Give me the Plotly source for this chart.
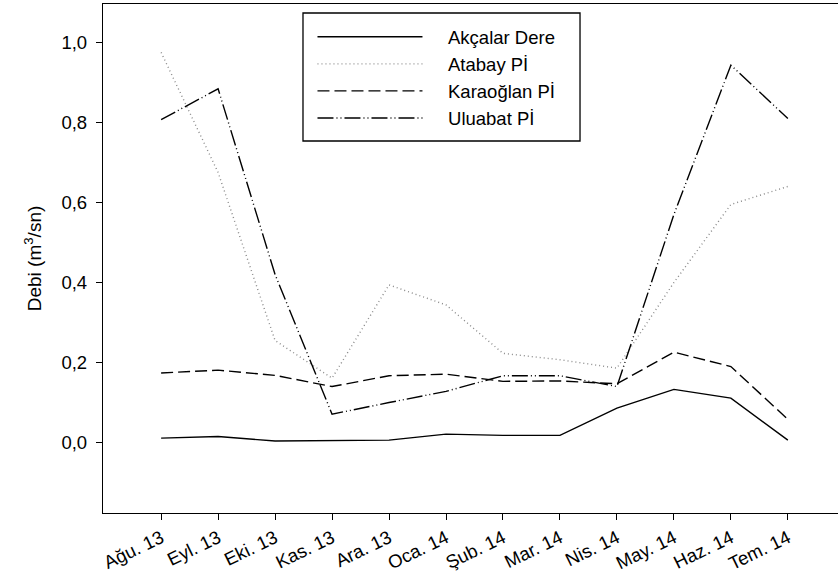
import plotly.graph_objects as go

months = ["Ağu. 13", "Eyl. 13", "Eki. 13", "Kas. 13", "Ara. 13", "Oca. 14",
          "Şub. 14", "Mar. 14", "Nis. 14", "May. 14", "Haz. 14", "Tem. 14"]

akcalar = [0.011, 0.015, 0.004, 0.005, 0.006, 0.021, 0.018, 0.018, 0.086, 0.133, 0.111, 0.006]
atabay = [0.975, 0.675, 0.255, 0.161, 0.394, 0.344, 0.223, 0.207, 0.186, 0.40, 0.595, 0.64]
karaoglan = [0.174, 0.181, 0.168, 0.140, 0.167, 0.171, 0.153, 0.154, 0.147, 0.226, 0.190, 0.058]
uluabat = [0.807, 0.884, 0.42, 0.071, 0.100, 0.128, 0.167, 0.167, 0.140, 0.57, 0.943, 0.81]

series = [
    ("Akçalar Dere", akcalar, "black", "solid"),
    ("Atabay Pİ", atabay, "#8a8a8a", "1px,3px"),
    ("Karaoğlan Pİ", karaoglan, "black", "12px,5px"),
    ("Uluabat Pİ", uluabat, "black", "16px,3px,1px,3px,1px,3px"),
]

x_idx = list(range(len(months)))
pad = "\u00a0" * 4

fig = go.Figure()
for name, vals, color, dash in series:
    fig.add_trace(go.Scatter(x=x_idx, y=vals, mode="lines", name=pad + name,
                             line=dict(color=color, width=1.4, dash=dash)))

font = "Arial"

fig.update_layout(
    width=838, height=579,
    margin=dict(l=103, r=0, t=4, b=66),
    paper_bgcolor="white", plot_bgcolor="white",
    separators=",.",
    font=dict(family=font, size=18.5, color="black"),
    showlegend=True,
    legend=dict(x=0.285, y=0.972, xanchor="left", yanchor="top",
                bgcolor="rgba(0,0,0,0)", borderwidth=0,
                itemwidth=105, tracegroupgap=0,
                font=dict(family=font, size=18.5, color="black")),
    xaxis=dict(range=[-1.02, 11.88], tickmode="array", tickvals=x_idx, ticktext=months,
               tickangle=-26, ticks="outside", ticklen=6, tickcolor="black",
               showline=True, linecolor="black", linewidth=1.3, mirror=True,
               showgrid=False, zeroline=False,
               tickfont=dict(family=font, size=18.5)),
    yaxis=dict(range=[-0.176, 1.096], tickvals=[0, 0.2, 0.4, 0.6, 0.8, 1.0],
               tickformat=".1f", ticks="outside", ticklen=6, tickcolor="black",
               showline=True, linecolor="black", linewidth=1.3,
               showgrid=False, zeroline=False, ticklabelstandoff=5,
               title=dict(text="Debi (m<sup>3</sup>/sn)", standoff=14,
                          font=dict(family=font, size=19)),
               tickfont=dict(family=font, size=18.5)),
    shapes=[dict(type="rect", xref="paper", yref="paper",
                 x0=0.2721, x1=0.649, y0=0.7308, y1=0.9823,
                 line=dict(color="black", width=1.3), fillcolor="rgba(0,0,0,0)")],
)

fig.write_html("out.html")
